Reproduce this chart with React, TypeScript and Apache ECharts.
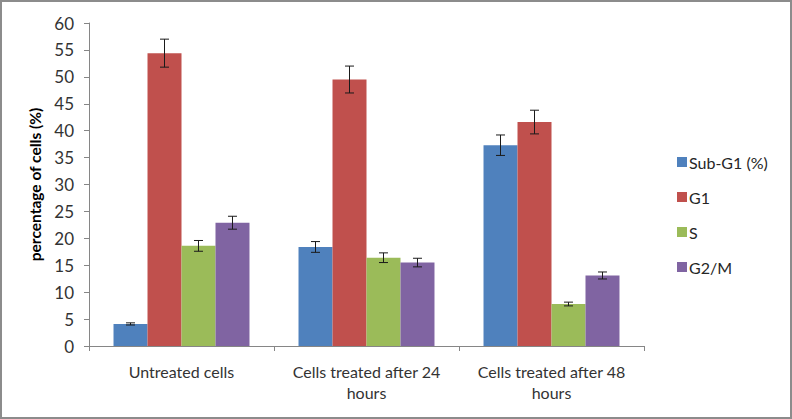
import React, { useEffect, useRef } from "react";
import * as echarts from "echarts";

const categories = ["Untreated cells", "Cells treated after 24\nhours", "Cells treated after 48\nhours"];
const seriesNames = ["Sub-G1 (%)", "G1", "S", "G2/M"];
const subG1 = [4.1, 18.4, 37.3];
const g1 = [54.4, 49.5, 41.6];
const sPhase = [18.6, 16.4, 7.8];
const g2m = [22.9, 15.5, 13.1];
const subG1Err = [0.2, 1.0, 1.9];
const g1Err = [2.6, 2.5, 2.2];
const sErr = [1.0, 0.9, 0.35];
const g2mErr = [1.2, 0.8, 0.65];
const yTicks = [0, 5, 10, 15, 20, 25, 30, 35, 40, 45, 50, 55, 60];

const colors = ["#4F81BD", "#C0504D", "#9BBB59", "#8064A2"];
const FONT = "Lato, 'Open Sans', sans-serif";
const CAT_GAP = 0.265;

export default function App() {
  const ref = useRef<HTMLDivElement>(null);
  useEffect(() => {
    document.body.style.margin = "0";
    const chart = echarts.init(ref.current!, undefined, { renderer: "svg" });
    const values = [subG1, g1, sPhase, g2m];
    const errs = [subG1Err, g1Err, sErr, g2mErr];
    const barSeries = values.map((v, i) => ({
      name: seriesNames[i],
      type: "bar",
      data: v,
      itemStyle: { color: colors[i] },
      barGap: "0%",
      barCategoryGap: CAT_GAP * 100 + "%",
    }));
    const errSeries = values.map((v, si) => ({
      type: "custom",
      name: "err" + si,
      silent: true,
      z: 10,
      data: v.map((val, ci) => [ci, val - errs[si][ci], val + errs[si][ci]]),
      renderItem: (params: any, api: any) => {
        const ci = api.value(0);
        const lo = api.coord([ci, api.value(1)]);
        const hi = api.coord([ci, api.value(2)]);
        const catW = api.size([1, 0])[0];
        const bw = (catW * (1 - CAT_GAP)) / 4;
        const x = lo[0] + (si - 1.5) * bw;
        const cap = 4.5;
        const style = { stroke: "#1a1a1a", lineWidth: 1 };
        return {
          type: "group",
          children: [
            { type: "line", shape: { x1: x, y1: lo[1], x2: x, y2: hi[1] }, style },
            { type: "line", shape: { x1: x - cap, y1: lo[1], x2: x + cap, y2: lo[1] }, style },
            { type: "line", shape: { x1: x - cap, y1: hi[1], x2: x + cap, y2: hi[1] }, style },
          ],
        };
      },
    }));
    chart.setOption({
      animation: false,
      backgroundColor: "#ffffff",
      textStyle: { fontFamily: FONT },
      graphic: [
        {
          type: "rect",
          shape: { x: 1, y: 1, width: 790, height: 417 },
          style: { fill: "none", stroke: "#8c8c8c", lineWidth: 2 },
          silent: true,
        },
      ],
      legend: {
        orient: "vertical",
        left: 672,
        top: 149,
        itemWidth: 10,
        itemHeight: 10,
        itemGap: 19,
        icon: "rect",
        data: seriesNames,
        textStyle: { fontFamily: FONT, fontSize: 16, color: "#262626", padding: [0, 0, 0, -3] },
      },
      grid: { left: 89, top: 23, right: 148, bottom: 73, containLabel: false },
      xAxis: {
        type: "category",
        data: categories,
        axisLine: { lineStyle: { color: "#868686" } },
        axisTick: { show: true, length: 5, lineStyle: { color: "#868686" } },
        axisLabel: { interval: 0, fontSize: 16, color: "#333333", lineHeight: 21, margin: 15, fontFamily: FONT },
      },
      yAxis: {
        type: "value",
        min: 0,
        max: 60,
        interval: 5,
        axisLine: { show: true, lineStyle: { color: "#868686" } },
        axisTick: { show: true, length: 5, lineStyle: { color: "#868686" } },
        splitLine: { show: false },
        axisLabel: {
          fontSize: 17,
          color: "#333333",
          margin: 15,
          fontFamily: FONT,
          formatter: (v: number) => (yTicks.includes(v) ? String(v) : ""),
        },
        name: "percentage of cells (%)",
        nameLocation: "middle",
        nameGap: 46,
        nameRotate: 90,
        nameTextStyle: { fontSize: 15.5, fontWeight: "bold", color: "#000", fontFamily: FONT },
      },
      series: [...barSeries, ...errSeries],
    });
    return () => chart.dispose();
  }, []);
  return <div ref={ref} style={{ width: 792, height: 419, position: "absolute", left: 0, top: 0 }} />;
}
